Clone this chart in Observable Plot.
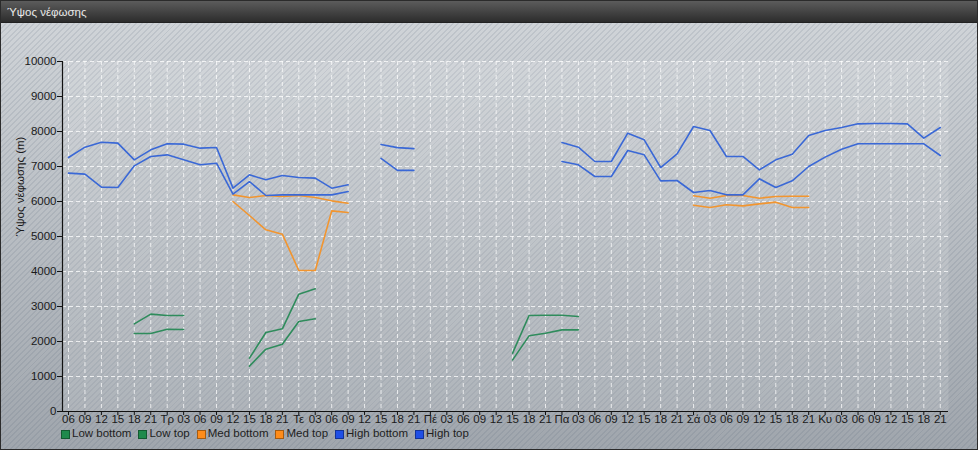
<!DOCTYPE html>
<html><head><meta charset="utf-8">
<script src="https://cdn.jsdelivr.net/npm/d3@7"></script>
<script src="https://cdn.jsdelivr.net/npm/@observablehq/plot@0.6"></script>
<style>
html,body{margin:0;padding:0;background:#fff;}
body{width:978px;height:450px;overflow:hidden;font-family:"Liberation Sans",Arial,sans-serif;}
#wrap{position:relative;width:976px;height:448px;border:1px solid #2b2b2b;
 background: repeating-linear-gradient(135deg, rgba(255,255,255,0) 0px, rgba(255,255,255,0) 2.6px, rgba(80,95,115,0.13) 2.6px, rgba(80,95,115,0.13) 4px), linear-gradient(#d2d6da, #a0a6ad);}
#title{height:21px;background:linear-gradient(#5c5c5c,#2c2c2c);color:#eaeaea;font-size:11.5px;line-height:22px;padding-left:6px;border-bottom:1px solid #222;}
#chart{position:absolute;left:0;top:22px;}
#legend{position:absolute;left:60px;top:425px;display:flex;font-size:11.5px;color:#1e1e1e;line-height:14px;}
.item{display:flex;align-items:center;margin-right:7px;}
.sw{width:7px;height:7px;border:1px solid rgba(0,0,0,0.35);margin-right:2px;margin-top:3px;}
</style>
</head><body>
<div id="wrap"><div id="title">Ύψος νέφωσης</div><div id="chart"></div><div id="legend"></div></div>
<script>
const xLabels = ["06","09","12","15","18","21","Τρ","03","06","09","12","15","18","21","Τε","03","06","09","12","15","18","21","Πέ","03","06","09","12","15","18","21","Πα","03","06","09","12","15","18","21","Σά","03","06","09","12","15","18","21","Κυ","03","06","09","12","15","18","21"];
const yTicks = [0,1000,2000,3000,4000,5000,6000,7000,8000,9000,10000];
const seriesNames = ["Low bottom","Low top","Med bottom","Med top","High bottom","High top"];
const lineColors = ["#2f8c5c","#2f8c5c","#f2952f","#f2952f","#3a68d6","#3a68d6"];
const swatchColors = ["#1f8a4c","#1f8a4c","#ff8c1a","#ff8c1a","#1f4fe6","#1f4fe6"];
const _ = null;
const lowBottom = [_,_,_,_,2229,2229,2352,2343,_,_,_,1295,1781,1924,2571,2648,_,_,_,_,_,_,_,_,_,_,_,1476,2162,2238,2333,2333,_,_,_,_,_,_,_,_,_,_,_,_,_,_,_,_,_,_,_,_,_,_];
const lowTop    = [_,_,_,_,2505,2781,2743,2743,_,_,_,1524,2257,2362,3352,3505,_,_,_,_,_,_,_,_,_,_,_,1667,2743,2752,2752,2714,_,_,_,_,_,_,_,_,_,_,_,_,_,_,_,_,_,_,_,_,_,_];
const medBottom = [_,_,_,_,_,_,_,_,_,_,6000,5600,5190,5067,4029,4029,5733,5686,_,_,_,_,_,_,_,_,_,_,_,_,_,_,_,_,_,_,_,_,5895,5829,5905,5876,5933,5981,5829,5829,_,_,_,_,_,_,_,_];
const medTop    = [_,_,_,_,_,_,_,_,_,_,6190,6114,6171,6143,6171,6114,6019,5952,_,_,_,_,_,_,_,_,_,_,_,_,_,_,_,_,_,_,_,_,6162,6095,6171,6171,6095,6143,6152,6152,_,_,_,_,_,_,_,_];
const highBottom= [6810,6781,6410,6400,7019,7286,7333,7190,7048,7095,6210,6571,6171,6190,6190,6190,6190,6286,_,7230,6890,6890,_,_,_,_,_,_,_,_,7143,7048,6714,6714,7457,7333,6590,6600,6257,6314,6190,6190,6648,6400,6590,7000,7267,7495,7648,7648,7648,7648,7648,7314];
const highTop   = [7257,7552,7695,7667,7190,7476,7648,7638,7524,7543,6381,6762,6619,6743,6686,6667,6381,6476,_,7630,7540,7510,_,_,_,_,_,_,_,_,7686,7552,7143,7143,7952,7762,6971,7362,8143,8029,7286,7286,6905,7190,7352,7886,8029,8114,8219,8229,8229,8219,7810,8114];
const seriesValues = [lowBottom, lowTop, medBottom, medTop, highBottom, highTop];

const rows = [];
seriesValues.forEach((vals, s) => vals.forEach((v, i) => rows.push({s, i, v})));

const xIdx = d3.range(xLabels.length);
const chart = Plot.plot({
  width: 976, height: 426,
  marginLeft: 61, marginRight: 29, marginTop: 38, marginBottom: 38,
  style: {background: "transparent", fontFamily: "'Liberation Sans', Arial, sans-serif", fontSize: "11.5px", color: "#1a1a1a"},
  x: {type: "linear", domain: [-0.365, 53.5]},
  y: {domain: [0, 10000]},
  marks: [
    Plot.frame({fill: "white", fillOpacity: 0.12, stroke: null}),
    Plot.gridX(xIdx, {stroke: "white", strokeOpacity: 0.75, strokeDasharray: "4,3"}),
    Plot.gridY(yTicks.slice(1), {stroke: "white", strokeOpacity: 0.75, strokeDasharray: "4,3"}),
    Plot.axisX(xIdx, {tickFormat: i => xLabels[i], tickSize: 4, tickPadding: -1, label: null, stroke: "#111", fill: "#1a1a1a"}),
    Plot.axisY(yTicks, {tickSize: 5, tickPadding: 1, label: null, tickFormat: d => String(d), stroke: "#111", fill: "#1a1a1a"}),
    Plot.ruleX([-0.365], {stroke: "#111", strokeWidth: 1.2}),
    Plot.ruleY([0], {stroke: "#111", strokeWidth: 1.2}),
    Plot.text(["Ύψος νέφωσης (m)"], {frameAnchor: "left", dx: -42, rotate: -90, fontSize: 11.5, fill: "#1a1a1a"}),
    Plot.line(rows, {x: "i", y: "v", z: "s", stroke: d => lineColors[d.s], strokeWidth: 1.6, curve: "linear"})
  ]
});
document.getElementById("chart").appendChild(chart);

const legend = document.getElementById("legend");
seriesNames.forEach((n, k) => {
  const it = document.createElement("div"); it.className = "item";
  const sw = document.createElement("div"); sw.className = "sw"; sw.style.background = swatchColors[k];
  const t = document.createElement("span"); t.textContent = n;
  it.appendChild(sw); it.appendChild(t); legend.appendChild(it);
});
</script>
</body></html>
